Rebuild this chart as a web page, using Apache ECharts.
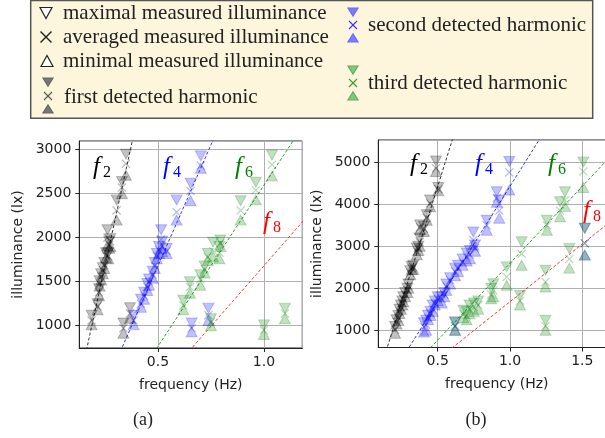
<!DOCTYPE html>
<html><head><meta charset="utf-8">
<script src="https://cdn.jsdelivr.net/npm/echarts@6/dist/echarts.min.js"></script>
<style>html,body{margin:0;padding:0;background:#fff}#c{width:605px;height:438px}</style>
</head><body><div id="c"></div>
<script>
// rows: [frequency (Hz), max lux, avg lux, min lux]
const A_FIRST = [
  [0.187,1120,1060,1010],[0.215,1250,1220,1180],[0.222,1420,1380,1340],[0.225,1510,1480,1450],
  [0.232,1590,1560,1520],[0.240,1660,1630,1590],[0.247,1720,1690,1650],[0.255,1830,1800,1770],
  [0.265,1830,1790,1760],[0.270,1960,1920,1880],[0.275,1990,1960,1900],[0.262,2090,2000,1910],
  [0.305,2430,2310,2200],[0.330,2640,2570,2500],[0.349,2950,2840,2710],
  [0.368,1205,1140,1085],[0.337,1030,970,915]
];
const A_SECOND = [
  [0.385,1120,1060,1010],[0.420,1300,1250,1210],[0.435,1380,1340,1300],[0.450,1480,1440,1400],
  [0.458,1530,1500,1460],[0.475,1620,1580,1540],[0.485,1720,1680,1650],[0.495,1820,1790,1760],
  [0.505,1900,1860,1820],[0.520,1960,1900,1840],[0.515,2090,1980,1880],[0.541,1880,1850,1820],
  [0.588,2430,2290,2200],[0.654,2620,2530,2420],[0.702,2930,2820,2790],
  [0.659,1030,970,930],[0.738,1200,1120,1060]
];
const A_THIRD = [
  [0.620,1290,1230,1180],[0.651,1500,1440,1370],[0.700,1580,1530,1460],[0.720,1680,1640,1600],
  [0.735,1820,1780,1740],[0.760,1950,1850,1780],[0.790,1900,1830,1760],[0.795,1975,1940,1900],
  [0.890,2420,2310,2200],[0.962,2630,2540,2430],[1.038,2940,2830,2700],
  [0.750,1080,1040,1000],[1.000,1010,950,900],[1.099,1200,1140,1080]
];
const B_FIRST = [
  [0.205,1090,1010,930],[0.215,1250,1200,1150],[0.228,1350,1290,1230],[0.235,1500,1450,1400],
  [0.245,1600,1550,1500],[0.255,1700,1650,1600],[0.262,1800,1740,1680],[0.275,1900,1850,1800],
  [0.290,2000,1960,1900],[0.297,2100,2050,2000],[0.310,2420,2370,2320],[0.320,2520,2480,2450],
  [0.330,2550,2500,2450],[0.355,2960,2880,2800],[0.366,3000,2950,2900],[0.375,3200,3100,3000],
  [0.378,3510,3450,3400],[0.405,3480,3420,3350],[0.424,3750,3680,3620],[0.447,4100,4020,3940],
  [0.504,4400,4360,4320],[0.488,5030,4860,4780]
];
const B_SECOND = [
  [0.405,1180,1080,960],[0.420,1240,1130,1000],[0.433,1360,1300,1250],[0.450,1450,1400,1350],
  [0.465,1600,1500,1450],[0.480,1700,1650,1600],[0.500,1800,1750,1700],[0.528,1800,1750,1650],
  [0.545,1900,1850,1800],[0.560,2100,2050,1950],[0.585,2250,2200,2100],[0.620,2480,2400,2300],
  [0.640,2550,2480,2400],[0.672,2700,2620,2550],[0.700,2840,2750,2650],[0.723,2900,2800,2700],
  [0.746,3340,3150,3030],[0.758,3030,2950,2880],[0.839,3620,3500,3380],[0.908,4300,4150,4050],
  [0.926,4100,3850,3670],[0.995,5020,4760,4340],[0.620,1200,1100,1000],[1.517,3430,3070,2790]
];
const B_THIRD = [
  [0.620,1200,1100,1000],[0.677,1480,1380,1300],[0.700,1450,1350,1250],[0.720,1600,1500,1400],
  [0.750,1650,1550,1450],[0.780,1700,1600,1500],[0.870,2000,1850,1750],[0.885,2110,1950,1800],
  [0.977,2510,2270,2070],[1.069,1830,1700,1600],[1.080,3110,2820,2550],[1.245,2430,2150,2030],
  [1.245,1240,1100,1000],[1.255,3620,3500,3380],[1.346,4060,3850,3700],[1.380,4300,4100,3950],
  [1.410,2950,2700,2480],[1.507,5010,4780,4400],[1.517,3430,3070,2790]
];
// harmonic guide lines: [frequency, illuminance] endpoints
const LINE_F2 = [[0.1425,500],[0.6066,5600]];
const LINE_F4 = [[0.285,500],[1.2132,5600]];
const LINE_F6 = [[0.4275,500],[1.8198,5600]];
const LINE_F8 = [[0.570,500],[2.4264,5600]];

const X_PATH = 'path://M1,0 L5,4 L9,0 L10,1 L6,5 L10,9 L9,10 L5,6 L1,10 L0,9 L4,5 L0,1 Z';

function markSeries(rows, rgb, gi) {
  const base = {type:'scatter', xAxisIndex:gi, yAxisIndex:gi, silent:true, animation:false};
  return [
    Object.assign({}, base, {symbol:'triangle', symbolRotate:180, symbolSize:[11,10],
      itemStyle:{color:`rgba(${rgb},0.3)`, borderColor:`rgba(${rgb},0.3)`, borderWidth:1},
      data: rows.map(r=>[r[0], r[1]])}),
    Object.assign({}, base, {symbol:X_PATH, symbolSize:9,
      itemStyle:{color:`rgba(${rgb},0.35)`},
      data: rows.map(r=>[r[0], r[2]])}),
    Object.assign({}, base, {symbol:'triangle', symbolSize:[11,10],
      itemStyle:{color:`rgba(${rgb},0.3)`, borderColor:`rgba(${rgb},0.3)`, borderWidth:1},
      data: rows.map(r=>[r[0], r[3]])})
  ];
}
function lineSeries(pts, color, gi) {
  return {type:'line', xAxisIndex:gi, yAxisIndex:gi, silent:true, animation:false, showSymbol:false, symbol:'none',
    lineStyle:{color, width:0.8, type:[3,2]}, data: pts, z:1};
}

const tickFont = {fontFamily:'DejaVu Sans', fontSize:14, color:'#222'};
function xAx(gi, min, max) {
  return {type:'value', gridIndex:gi, min, max, minInterval:0.5, maxInterval:0.5,
    name:'frequency (Hz)', nameLocation:'middle', nameGap:30,
    nameTextStyle:{fontFamily:'DejaVu Sans', fontSize:14, color:'#222'},
    axisLine:{onZero:false, lineStyle:{color:'#222', width:1}},
    axisTick:{show:true, length:4, lineStyle:{color:'#222'}},
    axisLabel:Object.assign({margin:7, showMinLabel:false, showMaxLabel:false, formatter:v=>v.toFixed(1)}, tickFont),
    splitLine:{show:true, lineStyle:{color:'#b0b0b0', width:1}}};
}
function yAx(gi, min, max, step) {
  return {type:'value', gridIndex:gi, min, max, minInterval:step, maxInterval:step,
    name:'illuminance (lx)', nameLocation:'middle', nameGap:54,
    nameTextStyle:{fontFamily:'DejaVu Sans', fontSize:14, color:'#222'},
    axisLine:{onZero:false, lineStyle:{color:'#222', width:1}},
    axisTick:{show:true, length:4, lineStyle:{color:'#222'}},
    axisLabel:Object.assign({margin:8, showMinLabel:false, showMaxLabel:false, formatter:v=>String(v)}, tickFont),
    splitLine:{show:true, lineStyle:{color:'#b0b0b0', width:1}}};
}

const series = [].concat(
  lineSeries(LINE_F2,'#000',0), lineSeries(LINE_F4,'#0000ff',0), lineSeries(LINE_F6,'#008000',0), lineSeries(LINE_F8,'#ff0000',0),
  lineSeries(LINE_F2,'#000',1), lineSeries(LINE_F4,'#0000ff',1), lineSeries(LINE_F6,'#008000',1), lineSeries(LINE_F8,'#ff0000',1),
  markSeries(A_FIRST,'0,0,0',0), markSeries(A_SECOND,'0,0,255',0), markSeries(A_THIRD,'0,128,0',0),
  markSeries(B_FIRST,'0,0,0',1), markSeries(B_SECOND,'0,0,255',1), markSeries(B_THIRD,'0,128,0',1)
);

const serif = 'Liberation Serif';
function txt(x, y, text, size, color, italic, align) {
  return {type:'text', x, y, silent:true, z:100,
    style:{text, fill:color, fontFamily:serif, fontSize:size, fontStyle: italic?'italic':'normal',
      textAlign: align||'left', textVerticalAlign:'middle'}};
}
function tri(cx, cy, w, h, down, fill, stroke) {
  const pts = down ? [[cx-w/2,cy-h/2],[cx+w/2,cy-h/2],[cx,cy+h/2]] : [[cx-w/2,cy+h/2],[cx+w/2,cy+h/2],[cx,cy-h/2]];
  return {type:'polygon', shape:{points:pts}, silent:true, z:100, style:{fill, stroke, lineWidth:1.2}};
}
function cross(cx, cy, s, color, lw) {
  return [
    {type:'line', silent:true, z:100, shape:{x1:cx-s/2,y1:cy-s/2,x2:cx+s/2,y2:cy+s/2}, style:{stroke:color, lineWidth:lw, fill:null}},
    {type:'line', silent:true, z:100, shape:{x1:cx+s/2,y1:cy-s/2,x2:cx-s/2,y2:cy+s/2}, style:{stroke:color, lineWidth:lw, fill:null}}
  ];
}
function fLabel(x, y, sub, color) {
  return [txt(x, y, 'f', 25, color, true), txt(x+10, y+6, sub, 16, color, false)];
}

const LF = 21;
const graphic = [].concat(
  [{type:'rect', shape:{x:30.7, y:0.5, width:562, height:117.8}, silent:true, z:90,
    style:{fill:'#fdf5dc', stroke:'#555', lineWidth:1.5}}],
  [tri(46,13,12,11,true,'#fff','#222'), txt(63,13,'maximal measured illuminance',LF,'#222')],
  cross(46,37,11,'#222',1.4), [txt(63,37,'averaged measured illuminance',LF,'#222')],
  [tri(47,61,12,11,false,'#fff','#222'), txt(63,61,'minimal measured illuminance',LF,'#222')],
  [tri(48,82,10,8,true,'#777','#666')], cross(48,96,8,'#555',1.1), [tri(48,109,10,8,false,'#777','#666')],
  [txt(64,97,'first detected harmonic',LF,'#222')],
  [tri(353,12,10,8,true,'#7b7bff','#6a6aff')], cross(353,25,8,'#3333ff',1.1), [tri(353,38,10,8,false,'#7b7bff','#6a6aff')],
  [txt(368,25,'second detected harmonic',LF,'#222')],
  [tri(353,70,10,8,true,'#80c880','#60b060')], cross(353,83,8,'#33a033',1.1), [tri(353,96,10,8,false,'#80c880','#60b060')],
  [txt(368,83,'third detected harmonic',LF,'#222')],
  [txt(143,420,'(a)',18,'#222',false,'center'), txt(476,420,'(b)',18,'#222',false,'center')],
  fLabel(93,167,'2','#000'), fLabel(163,167,'4','#0000ff'), fLabel(235,167,'6','#008000'), fLabel(263,222,'8','#ff0000'),
  fLabel(410,164,'2','#000'), fLabel(475,164,'4','#0000ff'), fLabel(548,164,'6','#008000'), fLabel(583,211,'8','#ff0000')
);

const chart = echarts.init(document.getElementById('c'), null, {renderer:'canvas'});
chart.setOption({
  animation:false,
  grid:[
    {left:79.3, top:141, width:223, height:207, show:true, borderColor:'#222', borderWidth:1, backgroundColor:'transparent', outerBoundsMode:'none', containLabel:false},
    {left:378.3, top:140, width:237, height:207.5, show:true, borderColor:'#222', borderWidth:1, backgroundColor:'transparent', outerBoundsMode:'none', containLabel:false}
  ],
  xAxis:[xAx(0,0.129,1.181), xAx(1,0.089,1.728)],
  yAxis:[yAx(0,747,3099,500), yAx(1,590,5531,1000)],
  series,
  graphic
});
</script></body></html>
